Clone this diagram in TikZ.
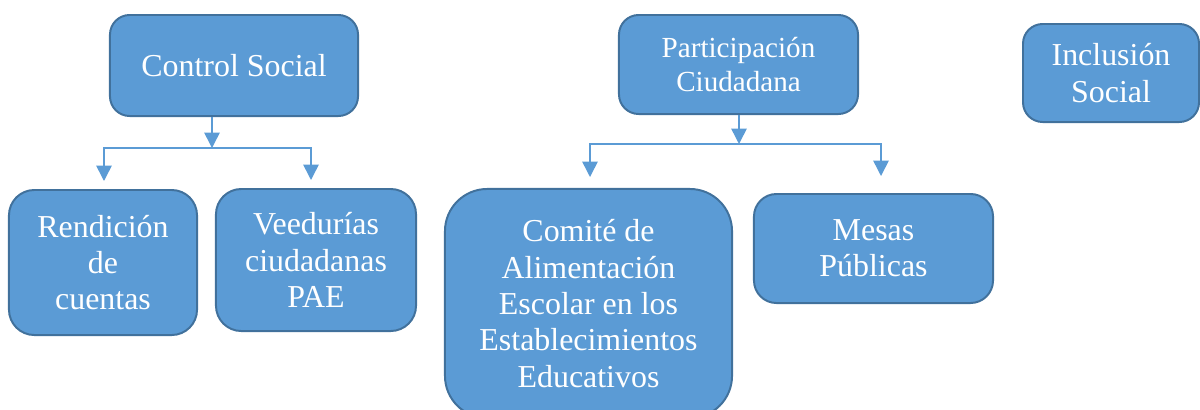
\documentclass[tikz,border=0pt]{standalone}
\usepackage{fontspec}
\setmainfont{Liberation Serif}
\usepackage{tikz}
\usetikzlibrary{arrows.meta,calc,positioning}
\definecolor{boxfill}{HTML}{5B9BD5}
\definecolor{boxedge}{HTML}{41719C}
\tikzset{%
	box/.style   = {draw=boxedge, fill=boxfill, line width=1.4pt, rounded corners=14pt, text=white, align=center, inner sep=0pt, font=\fontsize{22.7}{25.8}\selectfont},
	small/.style = {font=\fontsize{20.7}{24}\selectfont},
	link/.style  = {draw=boxfill, line width=1.1pt, -{Triangle[width=11pt,length=11pt]}},
}

\begin{document}
\begin{tikzpicture}[x=0.025cm,y=-0.025cm]
	
	\clip (0,0) rectangle (1200,409);
	
	% top level
	\node[box, minimum width=6.2cm, minimum height=2.525cm] (control) at (234,65.5) {Control Social};
	\node[box, small, minimum width=5.975cm, minimum height=2.475cm] (particip) at (738.5,64.5) {Participación\\Ciudadana};
	\node[box, minimum width=4.4cm, minimum height=2.45cm] (inclusion) at (1111,73) {Inclusión\\Social};
	
	% second level
	\node[box, rounded corners=18pt, minimum width=4.7cm, minimum height=3.625cm] (rendicion) at (103,262.5) {Rendición\\de\\cuentas};
	\node[box, rounded corners=18pt, minimum width=5cm, minimum height=3.55cm] (veeduria) at (316,260) {Veedurías\\ciudadanas\\PAE};
	\node[box, rounded corners=30pt, minimum width=7.175cm, minimum height=5.725cm] (comite) at (588.5,303.5) {Comité de\\Alimentación\\Escolar en los\\Establecimientos\\Educativos};
	\node[box, rounded corners=16pt, minimum width=5.975cm, minimum height=2.725cm] (mesas) at (873.5,248.5) {Mesas\\Públicas};
	
	% connectors
	\coordinate (csJ) at (212,148);
	\coordinate (rcTip) at (104,181);
	\coordinate (vpTip) at (311,180);
	\draw[link] (control.south -| csJ) -- (csJ);
	\draw[link] (csJ) -| (rcTip);
	\draw[link] (csJ) -| (vpTip);
	
	\coordinate (pcJ) at (739,144);
	\coordinate (caTip) at (590,177);
	\coordinate (mpTip) at (881,176);
	\draw[link] (particip.south -| pcJ) -- (pcJ);
	\draw[link] (pcJ) -| (caTip);
	\draw[link] (pcJ) -| (mpTip);
	
\end{tikzpicture}
\end{document}
